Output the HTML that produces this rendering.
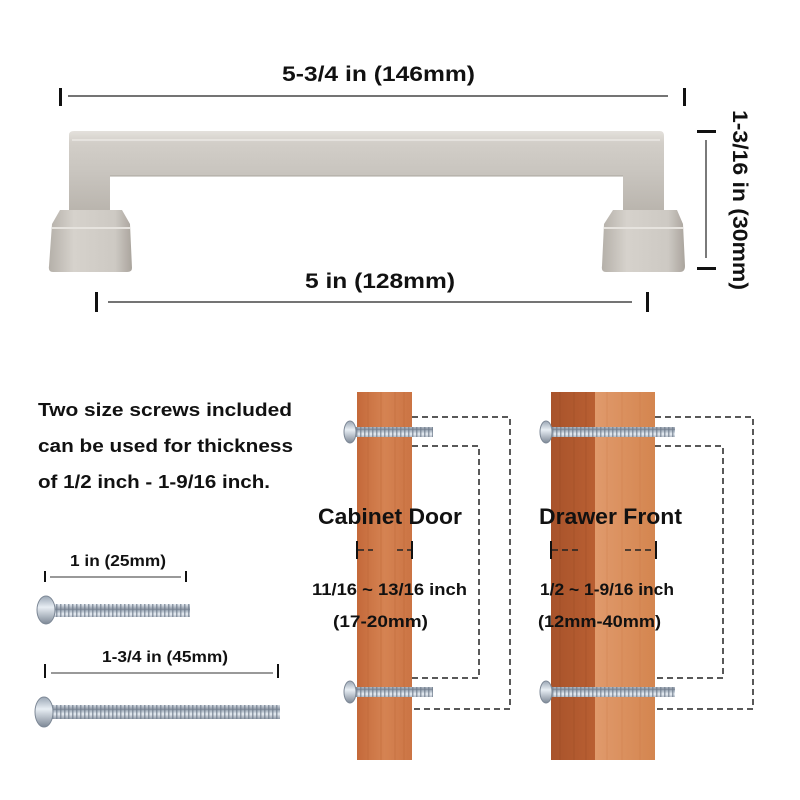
<!DOCTYPE html>
<html><head><meta charset="utf-8"><style>
html,body{margin:0;padding:0;background:#fff;width:800px;height:800px;overflow:hidden}
svg{display:block}
text{font-family:"Liberation Sans",Arial,sans-serif;font-weight:bold;fill:#111}
</style></head><body>
<svg width="800" height="800" viewBox="0 0 800 800" xmlns="http://www.w3.org/2000/svg">
<defs>
<linearGradient id="bar" x1="0" y1="0" x2="0" y2="1">
<stop offset="0" stop-color="#e4e1dc"/><stop offset="0.15" stop-color="#d2cec8"/><stop offset="0.5" stop-color="#c9c5bf"/><stop offset="1" stop-color="#b9b4ad"/></linearGradient>
<linearGradient id="foot" x1="0" y1="0" x2="1" y2="0">
<stop offset="0" stop-color="#b5b0a9"/><stop offset="0.3" stop-color="#d6d2cc"/><stop offset="0.8" stop-color="#cdc9c3"/><stop offset="1" stop-color="#aaa49d"/></linearGradient>
<linearGradient id="wood1" x1="0" y1="0" x2="1" y2="0">
<stop offset="0" stop-color="#c4693a"/><stop offset="0.5" stop-color="#d58352"/><stop offset="1" stop-color="#cb7444"/></linearGradient>
<linearGradient id="wood2" x1="0" y1="0" x2="1" y2="0">
<stop offset="0" stop-color="#a8532b"/><stop offset="1" stop-color="#b95f32"/></linearGradient>
<linearGradient id="wood3" x1="0" y1="0" x2="1" y2="0">
<stop offset="0" stop-color="#e09a6c"/><stop offset="1" stop-color="#d4854f"/></linearGradient>
<linearGradient id="scr" x1="0" y1="0" x2="0" y2="1">
<stop offset="0" stop-color="#9aa6b4"/><stop offset="0.4" stop-color="#e8eef4"/><stop offset="1" stop-color="#7d8896"/></linearGradient>
<pattern id="thr" width="4" height="10" patternUnits="userSpaceOnUse"><rect width="4" height="10" fill="url(#scr)"/><rect x="0" width="1.5" height="10" fill="#6f7c8c" opacity="0.7"/></pattern>
</defs>

<!-- top dimension -->
<text x="282" y="81" font-size="21" textLength="193" lengthAdjust="spacingAndGlyphs">5-3/4 in (146mm)</text>
<rect x="59" y="88" width="3" height="18" fill="#111"/>
<rect x="683" y="88" width="3" height="18" fill="#111"/>
<line x1="68" y1="96" x2="668" y2="96" stroke="#222" stroke-width="1.2"/>

<!-- handle -->
<path d="M69 135 Q69 131 74 131 L660 131 Q664 131 664 136 L664 212 L623 212 L623 176 L110 176 L110 212 L69 212 Z" fill="url(#bar)"/>
<line x1="72" y1="140" x2="660" y2="140" stroke="#eeece8" stroke-width="1.2"/>
<line x1="110" y1="176" x2="623" y2="176" stroke="#a9a49c" stroke-width="1"/>
<!-- left foot -->
<path d="M60 210 L122 210 L130 224 L132 268 Q132 272 127 272 L53 272 Q48 272 49 266 L52 224 Z" fill="url(#foot)"/>
<path d="M52 228 L130 228" stroke="#e6e3de" stroke-width="2"/>
<!-- right foot -->
<path d="M613 210 L677 210 L683 224 L685 266 Q685 272 680 272 L606 272 Q601 272 602 266 L604 224 Z" fill="url(#foot)"/>
<path d="M604 228 L683 228" stroke="#e6e3de" stroke-width="2"/>

<!-- vertical dimension -->
<rect x="697" y="130" width="19" height="3" fill="#111"/>
<rect x="697" y="267" width="19" height="3" fill="#111"/>
<line x1="706" y1="140" x2="706" y2="258" stroke="#222" stroke-width="1.2"/>
<text transform="translate(733,110) rotate(90)" font-size="21" textLength="180" lengthAdjust="spacingAndGlyphs">1-3/16 in (30mm)</text>

<!-- bottom dimension -->
<text x="305" y="288" font-size="21" textLength="150" lengthAdjust="spacingAndGlyphs">5 in (128mm)</text>
<rect x="95" y="292" width="3" height="20" fill="#111"/>
<rect x="646" y="292" width="3" height="20" fill="#111"/>
<line x1="108" y1="302" x2="632" y2="302" stroke="#222" stroke-width="1.2"/>

<!-- left text -->
<text x="38" y="416" font-size="18" textLength="254" lengthAdjust="spacingAndGlyphs">Two size screws included</text>
<text x="38" y="452" font-size="18" textLength="255" lengthAdjust="spacingAndGlyphs">can be used for thickness</text>
<text x="38" y="488" font-size="18" textLength="232" lengthAdjust="spacingAndGlyphs">of 1/2 inch - 1-9/16 inch.</text>

<!-- screw dims -->
<text x="70" y="566" font-size="16" textLength="96" lengthAdjust="spacingAndGlyphs">1 in (25mm)</text>
<rect x="44" y="571" width="2" height="11" fill="#111"/>
<rect x="185" y="571" width="2" height="11" fill="#111"/>
<line x1="50" y1="577" x2="181" y2="577" stroke="#333"/>
<rect x="50" y="604" width="140" height="13" fill="url(#thr)"/>
<ellipse cx="46" cy="610" rx="9" ry="14" fill="url(#scr)" stroke="#7d8896"/>

<text x="102" y="662" font-size="16" textLength="126" lengthAdjust="spacingAndGlyphs">1-3/4 in (45mm)</text>
<rect x="44" y="664" width="2" height="14" fill="#111"/>
<rect x="277" y="664" width="2" height="14" fill="#111"/>
<line x1="51" y1="673" x2="273" y2="673" stroke="#333"/>
<rect x="50" y="705" width="230" height="14" fill="url(#thr)"/>
<ellipse cx="44" cy="712" rx="9" ry="15" fill="url(#scr)" stroke="#7d8896"/>

<!-- cabinet door wood -->
<rect x="357" y="392" width="55" height="368" fill="url(#wood1)"/>
<g stroke="#b5602f" stroke-width="0.7" opacity="0.5">
<line x1="368" y1="392" x2="368" y2="760"/><line x1="381" y1="392" x2="381" y2="760"/><line x1="395" y1="392" x2="395" y2="760"/><line x1="404" y1="392" x2="404" y2="760"/></g>
<!-- drawer front wood -->
<rect x="551" y="392" width="44" height="368" fill="url(#wood2)"/>
<rect x="595" y="392" width="60" height="368" fill="url(#wood3)"/>
<g stroke="#8f4420" stroke-width="0.7" opacity="0.45">
<line x1="560" y1="392" x2="560" y2="760"/><line x1="574" y1="392" x2="574" y2="760"/><line x1="586" y1="392" x2="586" y2="760"/></g>
<g stroke="#c77341" stroke-width="0.7" opacity="0.4">
<line x1="607" y1="392" x2="607" y2="760"/><line x1="622" y1="392" x2="622" y2="760"/><line x1="640" y1="392" x2="640" y2="760"/></g>

<!-- screws in wood -->
<rect x="352" y="427" width="81" height="10" fill="url(#thr)"/>
<ellipse cx="350" cy="432" rx="6" ry="11" fill="url(#scr)" stroke="#7d8896"/>
<rect x="352" y="687" width="81" height="10" fill="url(#thr)"/>
<ellipse cx="350" cy="692" rx="6" ry="11" fill="url(#scr)" stroke="#7d8896"/>
<rect x="547" y="427" width="128" height="10" fill="url(#thr)"/>
<ellipse cx="546" cy="432" rx="6" ry="11" fill="url(#scr)" stroke="#7d8896"/>
<rect x="547" y="687" width="128" height="10" fill="url(#thr)"/>
<ellipse cx="546" cy="692" rx="6" ry="11" fill="url(#scr)" stroke="#7d8896"/>

<!-- dashed connectors -->
<g fill="none" stroke="#222" stroke-width="1.5" stroke-dasharray="6,4">
<path d="M412 417 H510 V709 H412"/>
<path d="M412 446 H479 V678 H412"/>
<path d="M655 417 H753 V709 H655"/>
<path d="M655 446 H723 V678 H655"/>
<path d="M358 550 H373"/><path d="M397 550 H411"/>
<path d="M552 550 H581"/><path d="M625 550 H654"/>
</g>
<g fill="#111">
<rect x="356" y="541" width="2" height="18"/><rect x="411" y="541" width="2" height="18"/>
<rect x="550" y="541" width="2" height="18"/><rect x="655" y="541" width="2" height="18"/>
</g>

<!-- labels -->
<text x="318" y="524" font-size="22" textLength="144" lengthAdjust="spacingAndGlyphs">Cabinet Door</text>
<text x="539" y="524" font-size="22" textLength="143" lengthAdjust="spacingAndGlyphs">Drawer Front</text>
<text x="312" y="595" font-size="17" textLength="155" lengthAdjust="spacingAndGlyphs">11/16 ~ 13/16 inch</text>
<text x="333" y="627" font-size="17" textLength="95" lengthAdjust="spacingAndGlyphs">(17-20mm)</text>
<text x="540" y="595" font-size="17" textLength="134" lengthAdjust="spacingAndGlyphs">1/2 ~ 1-9/16 inch</text>
<text x="538" y="627" font-size="17" textLength="123" lengthAdjust="spacingAndGlyphs">(12mm-40mm)</text>
</svg>
</body></html>
